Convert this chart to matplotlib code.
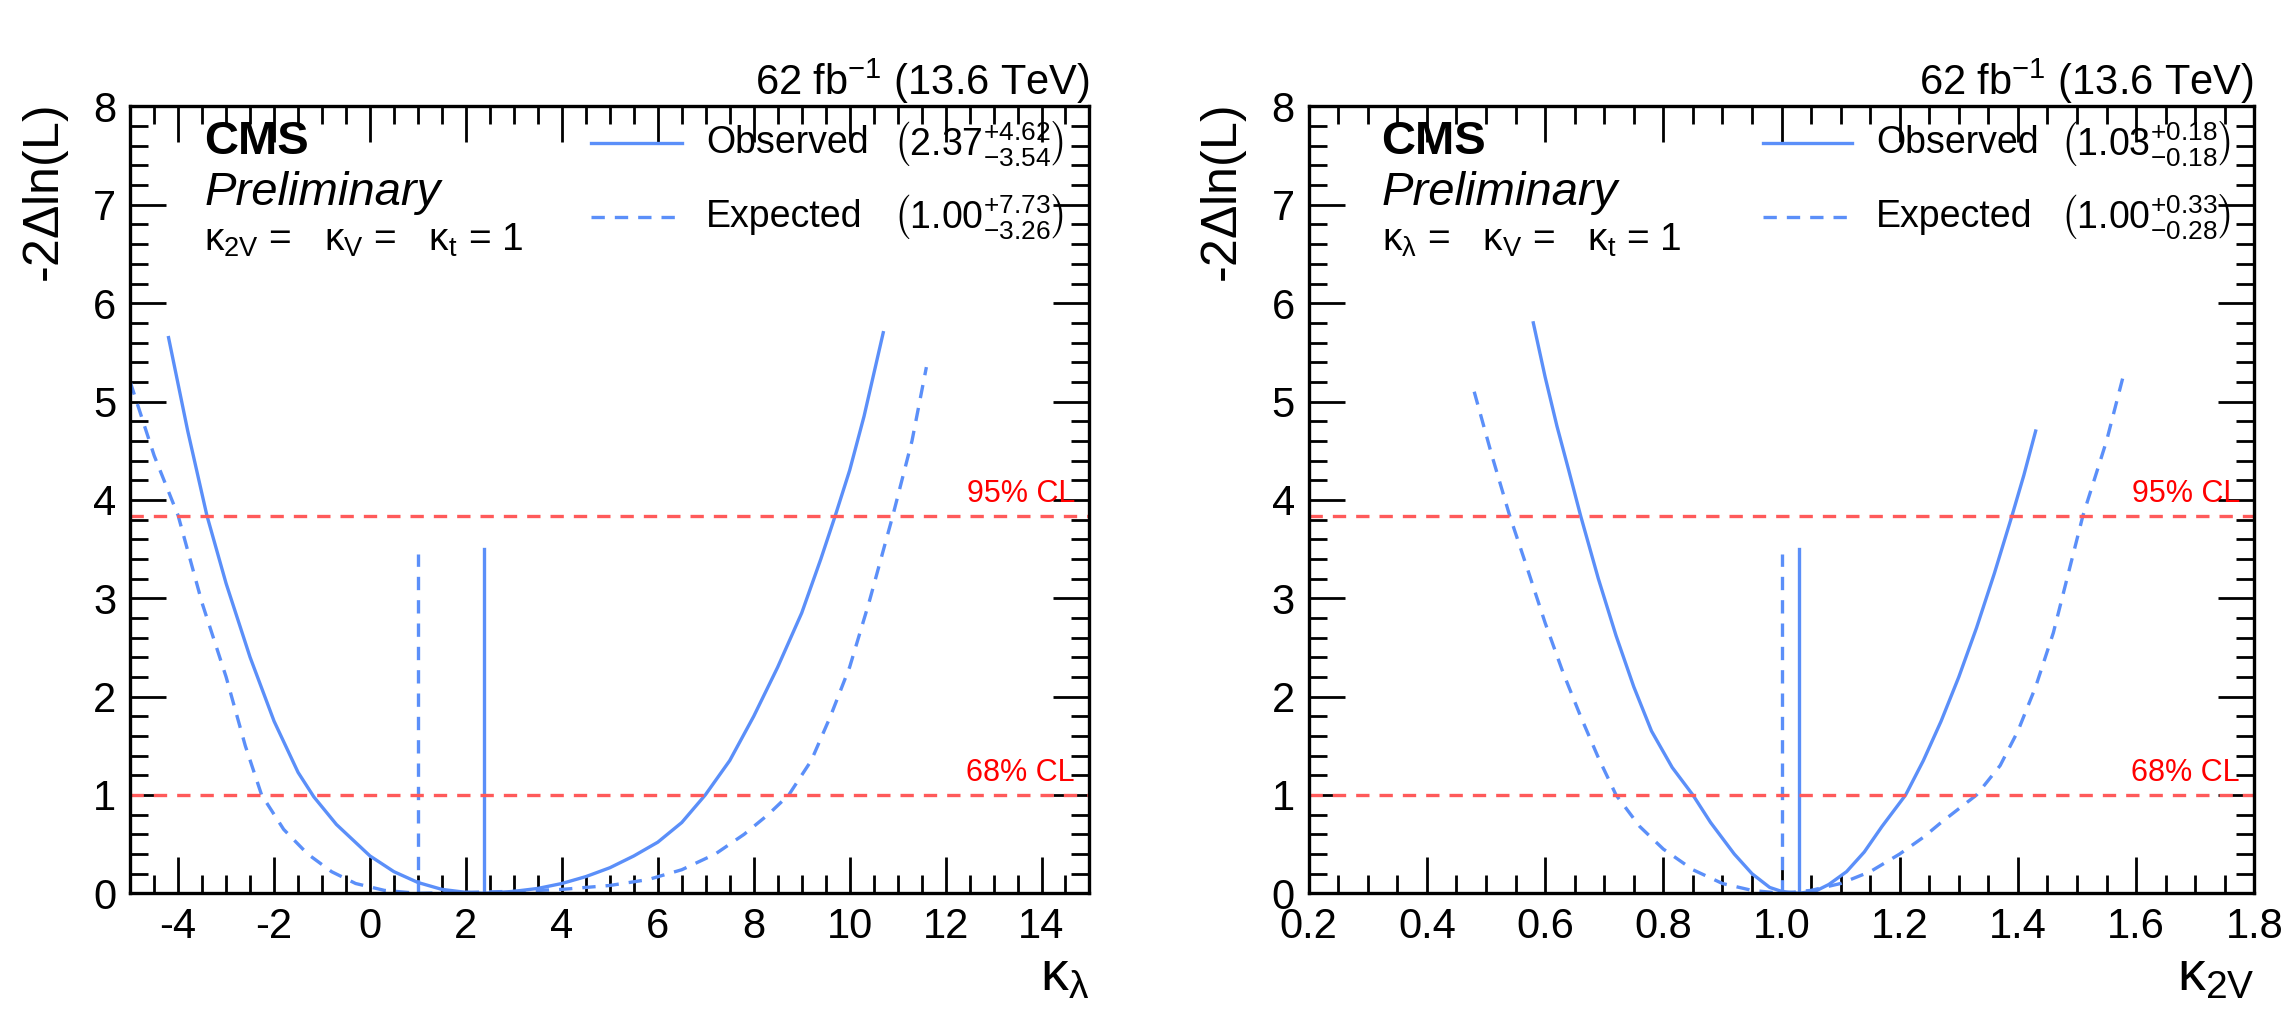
import matplotlib
matplotlib.use("Agg")
import matplotlib.pyplot as plt
from matplotlib.ticker import MultipleLocator

plt.rcParams["font.family"] = ["Liberation Sans", "DejaVu Sans"]
plt.rcParams["mathtext.fontset"] = "custom"
plt.rcParams["mathtext.rm"] = "Liberation Sans"
plt.rcParams["mathtext.it"] = "Liberation Sans"
plt.rcParams["mathtext.bf"] = "Liberation Sans:bold"
plt.rcParams["axes.unicode_minus"] = False

# kappa_lambda scan
kl_obs_x = [-4.2, -3.8, -3.4, -3.0, -2.5, -2.0, -1.5, -1.17, -0.7, 0.0, 0.5, 1.0, 1.5, 2.0, 2.37,
            3.0, 3.5, 4.0, 4.5, 5.0, 5.5, 6.0, 6.5, 6.99, 7.5, 8.0, 8.5, 9.0, 9.4, 9.7, 10.0, 10.3, 10.7]
kl_obs_y = [5.65, 4.7, 3.84, 3.15, 2.4, 1.75, 1.23, 0.98, 0.7, 0.38, 0.22, 0.11, 0.04, 0.01, 0.0,
            0.02, 0.05, 0.1, 0.17, 0.26, 0.38, 0.52, 0.72, 1.0, 1.35, 1.8, 2.3, 2.85, 3.4, 3.84, 4.3, 4.85, 5.7]
kl_exp_x = [-5.0, -4.5, -4.0, -3.5, -3.0, -2.6, -2.26, -1.8, -1.3, -0.8, -0.3, 0.3, 1.0, 2.0, 3.0,
            4.0, 5.0, 5.8, 6.5, 7.2, 7.8, 8.3, 8.73, 9.2, 9.6, 10.0, 10.4, 10.9, 11.3, 11.6]
kl_exp_y = [5.2, 4.45, 3.84, 2.95, 2.2, 1.5, 1.0, 0.65, 0.4, 0.22, 0.1, 0.03, 0.0, 0.01, 0.02,
            0.04, 0.08, 0.14, 0.24, 0.4, 0.6, 0.8, 1.0, 1.35, 1.8, 2.3, 2.95, 3.84, 4.6, 5.35]
kl_best = (2.37, 1.00)

# kappa_2V scan
k2v_obs_x = [0.58, 0.60, 0.62, 0.64, 0.66, 0.69, 0.72, 0.75, 0.78, 0.815, 0.85, 0.88, 0.92, 0.95, 0.98,
             1.0, 1.03, 1.06, 1.08, 1.11, 1.14, 1.17, 1.21, 1.24, 1.27, 1.30, 1.33, 1.36, 1.39, 1.41, 1.43]
k2v_obs_y = [5.8, 5.25, 4.75, 4.3, 3.84, 3.2, 2.62, 2.1, 1.65, 1.28, 1.0, 0.72, 0.4, 0.2, 0.06,
             0.02, 0.0, 0.03, 0.09, 0.22, 0.42, 0.68, 1.0, 1.35, 1.75, 2.2, 2.7, 3.25, 3.84, 4.25, 4.7]
k2v_exp_x = [0.48, 0.51, 0.54, 0.57, 0.60, 0.63, 0.66, 0.69, 0.72, 0.76, 0.80, 0.85, 0.9, 0.95, 1.0,
             1.05, 1.1, 1.15, 1.2, 1.24, 1.27, 1.30, 1.33, 1.37, 1.40, 1.43, 1.46, 1.51, 1.55, 1.58]
k2v_exp_y = [5.1, 4.45, 3.84, 3.3, 2.75, 2.25, 1.8, 1.38, 1.0, 0.68, 0.45, 0.24, 0.1, 0.03, 0.0,
             0.03, 0.1, 0.22, 0.4, 0.57, 0.72, 0.86, 1.0, 1.3, 1.65, 2.1, 2.65, 3.84, 4.6, 5.3]
k2v_best = (1.03, 1.00)

obs_label = [r"$\left(2.37^{+4.62}_{-3.54}\right)$", r"$\left(1.03^{+0.18}_{-0.18}\right)$"]
exp_label = [r"$\left(1.00^{+7.73}_{-3.26}\right)$", r"$\left(1.00^{+0.33}_{-0.28}\right)$"]
fixed_text = [r"$\mathrm{\kappa}_{\mathrm{2V}}$ =   $\mathrm{\kappa}_{\mathrm{V}}$ =   $\mathrm{\kappa}_{\mathrm{t}}$ = 1",
              r"$\mathrm{\kappa}_{\lambda}$ =   $\mathrm{\kappa}_{\mathrm{V}}$ =   $\mathrm{\kappa}_{\mathrm{t}}$ = 1"]
xlabels = [r"$\mathrm{\kappa}_{\lambda}$", r"$\mathrm{\kappa}_{\mathrm{2V}}$"]

blue = "#5b8ff9"
red = "#ff5a5a"

fig = plt.figure(figsize=(22.84, 10.14), dpi=100)
ax1 = fig.add_axes([0.057, 0.119, 0.42, 0.776])
ax2 = fig.add_axes([0.573, 0.119, 0.414, 0.776])

panels = [
    (ax1, kl_obs_x, kl_obs_y, kl_exp_x, kl_exp_y, kl_best, (-5, 15), 2, 0.5),
    (ax2, k2v_obs_x, k2v_obs_y, k2v_exp_x, k2v_exp_y, k2v_best, (0.2, 1.8), 0.2, 0.05),
]

for i, (ax, ox, oy, ex, ey, best, xlim, maj, mnr) in enumerate(panels):
    ax.plot(ox, oy, color=blue, lw=2.4)
    ax.plot(ex, ey, color=blue, lw=2.4, ls=(0, (4, 3)))
    ax.plot([best[0], best[0]], [0, 3.5], color=blue, lw=2.4)
    ax.plot([best[1], best[1]], [0, 3.45], color=blue, lw=2.4, ls=(0, (4, 3)))
    for yv, lab in [(1.0, "68% CL"), (3.84, "95% CL")]:
        ax.axhline(yv, color=red, lw=2.4, ls=(0, (4, 3)))
        ax.text(0.985, yv + 0.07, lab, transform=ax.get_yaxis_transform(),
                ha="right", va="bottom", color="red", fontsize=22)
    ax.set_xlim(*xlim)
    ax.set_ylim(0, 8)
    ax.xaxis.set_major_locator(MultipleLocator(maj))
    ax.xaxis.set_minor_locator(MultipleLocator(mnr))
    ax.yaxis.set_major_locator(MultipleLocator(1))
    ax.yaxis.set_minor_locator(MultipleLocator(0.2))
    ax.tick_params(which="both", direction="in", top=True, right=True, labelsize=30, width=2, pad=10)
    ax.tick_params(which="major", length=26)
    ax.tick_params(which="minor", length=13)
    for s in ax.spines.values():
        s.set_linewidth(2.4)
    ax.set_ylabel(r"-2$\Delta$ln(L)", fontsize=36, loc="top", labelpad=16)
    ax.set_xlabel(xlabels[i], fontsize=40, loc="right", labelpad=2)
    ax.set_title(r"62 fb$^{-1}$ (13.6 TeV)", loc="right", fontsize=30, pad=8)

    ax.text(0.077, 0.955, "CMS", transform=ax.transAxes, fontsize=34, fontweight="bold", va="center")
    ax.text(0.077, 0.89, "Preliminary", transform=ax.transAxes, fontsize=34, style="italic", va="center")
    ax.text(0.077, 0.83, fixed_text[i], transform=ax.transAxes, fontsize=28, va="center")

    # legend
    ax.plot([0.48, 0.575], [0.953, 0.953], transform=ax.transAxes, color=blue, lw=2.4)
    ax.plot([0.48, 0.575], [0.86, 0.86], transform=ax.transAxes, color=blue, lw=2.4, ls=(0, (4, 3)))
    ax.text(0.6, 0.953, "Observed", transform=ax.transAxes, fontsize=27, va="center")
    ax.text(0.6, 0.86, "Expected", transform=ax.transAxes, fontsize=27, va="center")
    ax.text(0.795, 0.953, obs_label[i], transform=ax.transAxes, fontsize=27, va="center")
    ax.text(0.795, 0.86, exp_label[i], transform=ax.transAxes, fontsize=27, va="center")

fig.savefig("out.png", dpi=100)
